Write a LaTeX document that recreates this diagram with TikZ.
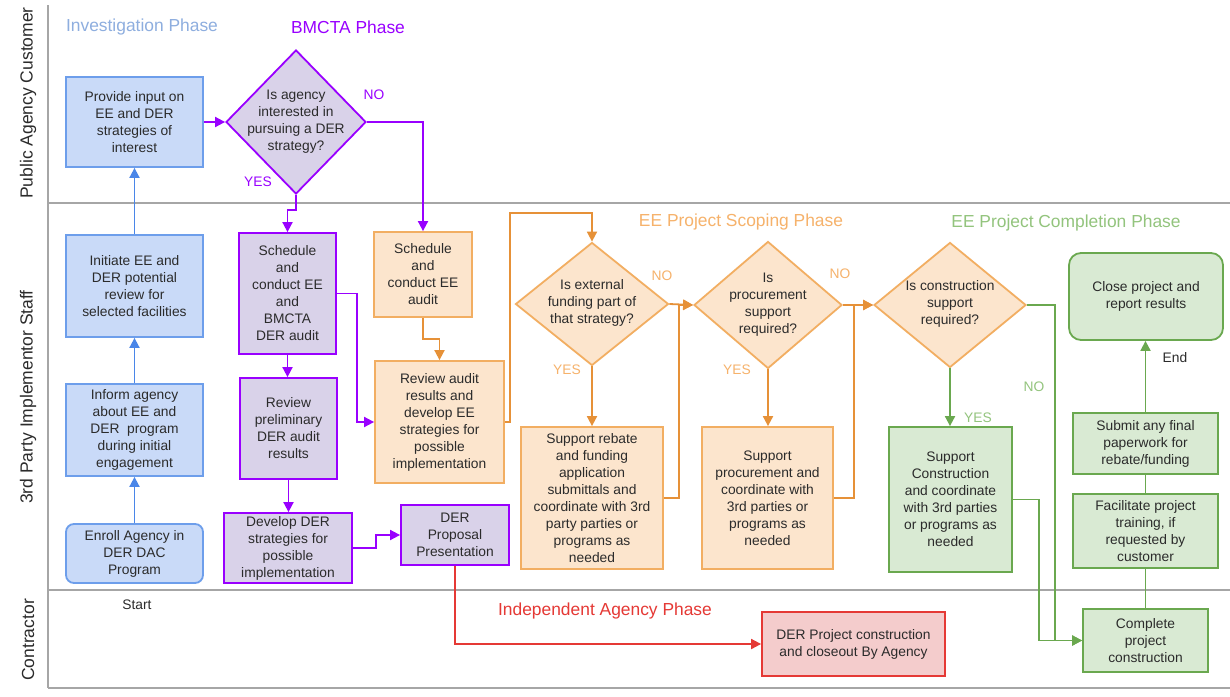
\documentclass[tikz,border=0pt]{standalone}
\usepackage{fontspec}
\setmainfont{Liberation Sans}
\usetikzlibrary{shapes.geometric,arrows.meta}
\definecolor{txt}{HTML}{2B2B2B}
\definecolor{laneC}{HTML}{A6A6A6}
\definecolor{blueF}{HTML}{C9DAF8}
\definecolor{blueB}{HTML}{6D9EEB}
\definecolor{blueL}{HTML}{4A86E8}
\definecolor{blueT}{HTML}{8EAEDF}
\definecolor{purF}{HTML}{D9D2E9}
\definecolor{purB}{HTML}{9900FF}
\definecolor{oraF}{HTML}{FCE5CD}
\definecolor{oraB}{HTML}{F2AE62}
\definecolor{oraL}{HTML}{E69138}
\definecolor{oraT}{HTML}{F6B26B}
\definecolor{grnF}{HTML}{D9EAD3}
\definecolor{grnB}{HTML}{6AA84F}
\definecolor{grnT}{HTML}{93C47D}
\definecolor{redF}{HTML}{F4CCCC}
\definecolor{redB}{HTML}{E53935}
\newcommand\dmtext[1]{\makebox[0pt]{\raisebox{-3pt}[0pt][0pt]{\begin{tabular}{@{}c@{}}#1\end{tabular}}}}
\tikzset{
  boxbase/.style={draw, line width=1.8pt, align=center, inner sep=1pt, text=txt,
    font=\fontsize{13.8}{17}\selectfont},
  bluebox/.style={boxbase, draw=blueB, fill=blueF},
  purbox/.style={boxbase, draw=purB, fill=purF},
  orabox/.style={boxbase, draw=oraB, fill=oraF},
  grnbox/.style={boxbase, draw=grnB, fill=grnF},
  redbox/.style={boxbase, draw=redB, fill=redF},
  decision/.style={diamond, draw, line width=1.8pt, inner sep=0pt, text=txt,
    font=\fontsize{13.8}{17}\selectfont},
  arr/.style={line width=1.8pt, -{Triangle[length=10pt,width=10pt]}},
  plain/.style={line width=1.8pt},
  lanelabel/.style={font=\fontsize{17.5}{20}\selectfont, text=txt, inner sep=0pt},
  phase/.style={font=\fontsize{17.4}{20}\selectfont, inner sep=0pt},
  small/.style={font=\fontsize{13.8}{17}\selectfont, inner sep=0pt},
}
\begin{document}
\begin{tikzpicture}[x=1pt,y=-1pt]
\useasboundingbox (0,0) rectangle (1230,696);
\fill[white] (0,0) rectangle (1230,696);
% lanes
\draw[laneC, line width=2.2pt] (48,5) -- (48,688);
\draw[laneC, line width=2.2pt] (48,203) -- (1230,203);
\draw[laneC, line width=2.2pt] (48,590) -- (1230,590);
\draw[laneC, line width=2.2pt] (48,688) -- (1230,688);
\node[lanelabel, rotate=90] (lane1) at (28,103) {Public Agency Customer};
\node[lanelabel, rotate=90] (lane2) at (28,397) {3rd Party Implementor Staff};
\node[lanelabel, rotate=90] (lane3) at (28,640) {Contractor};
% phase labels
\node[phase, text=blueT] (ph1) at (142,27) {Investigation Phase};
\node[phase, text=purB] (ph2) at (348,27) {BMCTA Phase};
\node[phase, text=oraT] (ph3) at (741,222) {EE Project Scoping Phase};
\node[phase, text=grnT] (ph4) at (1066,223) {EE Project Completion Phase};
\node[phase, text=redB] (ph5) at (605,611) {Independent Agency Phase};
\node[small, text=txt] (start) at (137,605) {Start};
\node[small, text=txt] (endl) at (1175,358) {End};
% blue
\node[bluebox, minimum width=137, minimum height=90] (a1) at (134.5,122) {Provide input on\\EE and DER\\strategies of\\interest};
\node[bluebox, minimum width=137, minimum height=102] (a2) at (134.5,286) {Initiate EE and\\DER potential\\review for\\selected facilities};
\node[bluebox, minimum width=137, minimum height=92] (a3) at (134.5,430) {Inform agency\\about EE and\\DER\ \ program\\during initial\\engagement};
\node[bluebox, rounded corners=8pt, minimum width=137, minimum height=59] (a4) at (134.5,553.5) {Enroll Agency in\\DER DAC\\Program};
% purple
\node[decision, draw=purB, fill=purF, minimum width=140, minimum height=144] (d1) at (296,122) {\dmtext{Is agency\\interested in\\pursuing a DER\\strategy?}};
\node[purbox, minimum width=97, minimum height=121] (p1) at (287.5,293.5) {Schedule\\and\\conduct EE\\and\\BMCTA\\DER audit};
\node[purbox, minimum width=97, minimum height=101] (p2) at (288.5,428.5) {Review\\preliminary\\DER audit\\results};
\node[purbox, minimum width=128, minimum height=70] (p3) at (288,548) {Develop DER\\strategies for\\possible\\implementation};
\node[purbox, minimum width=108, minimum height=60] (p4) at (455,535) {DER\\Proposal\\Presentation};
% orange
\node[orabox, minimum width=98, minimum height=85] (o1) at (423,274.5) {Schedule\\and\\conduct EE\\audit};
\node[orabox, minimum width=129, minimum height=122] (o2) at (439.5,422) {Review audit\\results and\\develop EE\\strategies for\\possible\\implementation};
\node[decision, draw=oraB, fill=oraF, minimum width=153, minimum height=123] (od1) at (592,304) {\dmtext{Is external\\funding part of\\that strategy?}};
\node[orabox, minimum width=142, minimum height=142] (o3) at (592,498) {Support rebate\\and funding\\application\\submittals and\\coordinate with 3rd\\party parties or\\programs as\\needed};
\node[decision, draw=oraB, fill=oraF, minimum width=148, minimum height=127] (od2) at (768,305) {\dmtext{Is\\procurement\\support\\required?}};
\node[orabox, minimum width=131, minimum height=142] (o4) at (767.5,498) {Support\\procurement and\\coordinate with\\3rd parties or\\programs as\\needed};
\node[decision, draw=oraB, fill=oraF, minimum width=152, minimum height=125] (od3) at (950,305) {\dmtext{Is construction\\support\\required?}};
% green
\node[grnbox, minimum width=123, minimum height=145] (g1) at (950.5,499.5) {Support\\Construction\\and coordinate\\with 3rd parties\\or programs as\\needed};
\node[grnbox, rounded corners=12pt, minimum width=154, minimum height=87] (g0) at (1146,296.5) {Close project and\\report results};
\node[grnbox, minimum width=145, minimum height=61] (g2) at (1145.5,443.5) {Submit any final\\paperwork for\\rebate/funding};
\node[grnbox, minimum width=145, minimum height=74] (g3) at (1145.5,531) {Facilitate project\\training, if\\requested by\\customer};
\node[grnbox, minimum width=125, minimum height=63] (g4) at (1145.5,640.5) {Complete\\project\\construction};
% red
\node[redbox, minimum width=183, minimum height=64] (r1) at (853.5,644) {DER Project construction\\and closeout By Agency};
% yes/no labels
\node[small, text=purB] (y1) at (258,182) {YES};
\node[small, text=purB] (n1) at (374,95) {NO};
\node[small, text=oraT] (y2) at (567,370) {YES};
\node[small, text=oraT] (n2) at (662,276) {NO};
\node[small, text=oraT] (y3) at (737,370) {YES};
\node[small, text=oraT] (n3) at (840,274) {NO};
\node[small, text=grnT] (y4) at (978,418) {YES};
\node[small, text=grnT] (n4) at (1034,387) {NO};
% blue connectors
\draw[arr, blueL] (a4.north) -- (a3.south);
\draw[arr, blueL] (a3.north) -- (a2.south);
\draw[arr, blueL] (a2.north) -- (a1.south);
% purple connectors
\draw[arr, purB] (a1.east) -- (d1.west);
\draw[arr, purB] (d1.south) -- ++(0,15) -| (p1.north);
\draw[arr, purB] (d1.east) -| (o1.north);
\draw[arr, purB] (p1.south) -- (p1.south |- p2.north);
\draw[arr, purB] (p2.south) -- (p2.south |- p3.north);
\draw[arr, purB] (p3.east) -- ++(23,0) |- (p4.west);
\draw[arr, purB] (p1.east) -- ++(20,0) |- (o2.west);
% orange connectors
\draw[arr, oraL] (o1.south) -- ++(0,21) -| (o2.north);
\draw[arr, oraL] (o2.east) -- ++(5,0) -- ++(0,-209) -| (od1.north);
\draw[arr, oraL] (od1.south) -- (o3.north);
\draw[arr, oraL] (od1.east) -- (od2.west);
\draw[arr, oraL] (o3.east) -- ++(15,0) |- (od2.west);
\draw[arr, oraL] (od2.south) -- (od2.south |- o4.north);
\draw[arr, oraL] (od2.east) -- (od3.west);
\draw[arr, oraL] (o4.east) -- ++(20,0) |- (od3.west);
% green connectors
\draw[arr, grnB] (od3.south) -- (od3.south |- g1.north);
\draw[arr, grnB] (od3.east) -- ++(28,0) |- (g4.west);
\draw[arr, grnB] (g1.east) -- ++(26,0) |- (g4.west);
\draw[plain, grnB] (g4.north) -- (g4.north |- g3.south);
\draw[plain, grnB] (g3.north) -- (g3.north |- g2.south);
\draw[arr, grnB] (g2.north) -- (g2.north |- g0.south);
% red connector
\draw[arr, redB] (p4.south) |- (r1.west);
\end{tikzpicture}
\end{document}
